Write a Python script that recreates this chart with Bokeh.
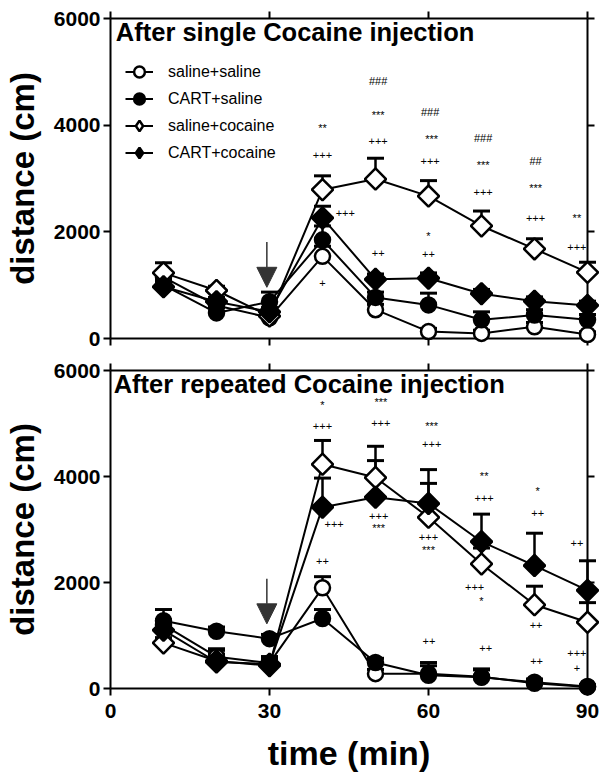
from bokeh.plotting import figure
from bokeh.models import (FixedTicker, LinearAxis, Range1d, Legend, LegendItem,
                          Arrow, NormalHead, ColumnDataSource)
from bokeh.layouts import column
from bokeh.embed import file_html
from bokeh.resources import INLINE
from bokeh.core.properties import value

# ---------------- data ----------------
time_min = [10, 20, 30, 40, 50, 60, 70, 80, 90]
group_names = ["saline+saline", "CART+saline", "saline+cocaine", "CART+cocaine"]

# After single cocaine injection (mean, SEM)
single_ss = [1150, 620, 390, 1540, 540, 130, 95, 220, 75]
single_ss_sem = [100, 80, 80, 190, 100, 60, 60, 80, 50]
single_cs = [1000, 480, 690, 1850, 770, 630, 350, 440, 350]
single_cs_sem = [100, 100, 180, 260, 100, 220, 150, 100, 100]
single_sc = [1230, 900, 420, 2790, 2990, 2670, 2110, 1680, 1240]
single_sc_sem = [190, 80, 60, 260, 390, 290, 280, 190, 190]
single_cc = [970, 690, 500, 2260, 1110, 1130, 840, 700, 620]
single_cc_sem = [100, 80, 80, 220, 100, 100, 80, 80, 80]

# After repeated cocaine injection (mean, SEM)
rep_ss = [1200, 600, 480, 1900, 280, 280, 220, 100, 30]
rep_ss_sem = [100, 150, 120, 210, 80, 150, 130, 60, 30]
rep_cs = [1280, 1080, 940, 1320, 490, 250, 210, 120, 40]
rep_cs_sem = [210, 80, 80, 170, 80, 240, 160, 60, 30]
rep_sc = [860, 520, 430, 4230, 3980, 3230, 2350, 1580, 1250]
rep_sc_sem = [100, 200, 170, 450, 590, 640, 300, 350, 370]
rep_cc = [1100, 500, 460, 3420, 3610, 3490, 2770, 2320, 1850]
rep_cc_sem = [100, 150, 100, 550, 690, 640, 520, 610, 560]

# significance marks
single_sig_x = [40, 40, 40, 44.3,
                50.5, 50.5, 50.5, 50.5,
                60.3, 60.6, 60.3, 60.0, 60.0,
                70.3, 70.3, 70.3,
                80.2, 80.2, 80.2,
                88.0, 88.0]
single_sig_y = [3940, 3450, 1040, 2360,
                4830, 4190, 3700, 1600,
                4250, 3750, 3320, 1925, 1585,
                3755, 3245, 2755,
                3320, 2830, 2265,
                2265, 1720]
single_sig_text = ["**", "+++", "+", "+++",
                   "###", "***", "+++", "++",
                   "###", "***", "+++", "*", "++",
                   "###", "***", "+++",
                   "##", "***", "+++",
                   "**", "+++"]

rep_sig_x = [40, 40, 40, 42.2,
             51.0, 51.0, 50.6, 50.6,
             60.6, 60.6, 60.0, 60.0, 60.1,
             70.5, 70.5, 68.7, 70.0, 70.8,
             80.6, 80.6, 80.3, 80.4,
             88.0, 88.0, 88.0]
rep_sig_y = [5340, 4950, 2415, 3110,
             5400, 5006, 3264, 3025,
             4962, 4604, 2855, 2617, 887,
             4013, 3598, 1911, 1647, 755,
             3717, 3308, 1189, 528,
             2742, 666, 391]
rep_sig_text = ["*", "+++", "++", "+++",
                "***", "+++", "+++", "***",
                "***", "+++", "+++", "***", "++",
                "**", "+++", "+++", "*", "++",
                "*", "++", "++", "++",
                "++", "+++", "+"]

panel_titles = ["After single Cocaine injection", "After repeated Cocaine injection"]
x_ticks = [0, 30, 60, 90]
y_ticks = [0, 2000, 4000, 6000]
injection_time = 29.5
single_arrow_y = [1810, 960]
rep_arrow_y = [2070, 1220]

FONT = "Liberation Sans"
marker_kind = ["circle", "circle", "square", "square"]
marker_fill = ["white", "black", "white", "black"]
marker_angle = [0, 0, 0.785398, 0.785398]


def style_axis(ax, labels=True):
    ax.axis_line_width = 2
    ax.axis_line_color = "black"
    ax.major_tick_line_width = 2
    ax.major_tick_line_color = "black"
    ax.major_tick_out = 7
    ax.major_tick_in = 0
    ax.minor_tick_line_color = None
    if labels:
        ax.major_label_text_font = FONT
        ax.major_label_text_font_style = "bold"
        ax.major_label_text_font_size = "21px"
        ax.major_label_text_color = "black"
        ax.major_label_standoff = 3
    else:
        ax.major_label_text_font_size = "0px"
        ax.major_label_standoff = 0


def make_panel(means, sems, sig_x, sig_y, sig_text, title, arrow_y, bottom, legend):
    p = figure(x_range=Range1d(0, 90), y_range=Range1d(0, 6000),
               frame_width=477, frame_height=320 if not bottom else 318,
               output_backend="svg", toolbar_location=None,
               min_border_left=105, min_border_right=18,
               min_border_top=18,
               min_border_bottom=14 if not bottom else 88,
               background_fill_color="white", border_fill_color="white",
               outline_line_color=None)
    p.grid.visible = False

    p.xaxis.ticker = FixedTicker(ticks=x_ticks)
    p.yaxis.ticker = FixedTicker(ticks=y_ticks)
    style_axis(p.xaxis[0], labels=bottom)
    style_axis(p.yaxis[0], labels=True)
    p.yaxis.axis_label = "distance (cm)"
    p.yaxis.axis_label_text_font = FONT
    p.yaxis.axis_label_text_font_style = "bold"
    p.yaxis.axis_label_text_font_size = "33px"
    p.yaxis.axis_label_text_color = "black"
    p.yaxis.axis_label_standoff = 10
    if bottom:
        p.xaxis.major_label_standoff = 8
        p.xaxis.axis_label = "time (min)"
        p.xaxis.axis_label_text_font = FONT
        p.xaxis.axis_label_text_font_style = "bold"
        p.xaxis.axis_label_text_font_size = "34px"
        p.xaxis.axis_label_text_color = "black"
        p.xaxis.axis_label_standoff = 13

    top_ax = LinearAxis(ticker=FixedTicker(ticks=x_ticks))
    style_axis(top_ax, labels=False)
    p.add_layout(top_ax, "above")
    right_ax = LinearAxis(ticker=FixedTicker(ticks=y_ticks))
    style_axis(right_ax, labels=False)
    p.add_layout(right_ax, "right")

    # error bars (upper only)
    for m, s in zip(means, sems):
        upper = [a + b for a, b in zip(m, s)]
        src = ColumnDataSource(dict(x=time_min, y=m, up=upper))
        r = p.segment(x0="x", y0="y", x1="x", y1="up", source=src,
                      line_color="black", line_width=2.5)
        r.level = "overlay"
        r = p.scatter(x="x", y="up", source=src, marker="dash", size=17,
                      line_color="black", line_width=3)
        r.level = "overlay"

    line_rs = []
    for i, m in enumerate(means):
        src = ColumnDataSource(dict(x=time_min, y=m))
        lr = p.line(x="x", y="y", source=src, line_color="black", line_width=2)
        lr.level = "overlay"
        line_rs.append(lr)
    legend_marks = []
    for i, m in enumerate(means):
        src = ColumnDataSource(dict(x=time_min, y=m))
        if marker_kind[i] == "square":
            # plain diamond sitting under the rotated square; used for the legend swatch
            dr = p.scatter(x="x", y="y", source=src, marker="diamond", size=20,
                           fill_color=marker_fill[i], line_color="black", line_width=2.5)
            dr.level = "overlay"
        mr = p.scatter(x="x", y="y", source=src, marker=marker_kind[i],
                       size=15, angle=marker_angle[i],
                       fill_color=marker_fill[i], line_color="black", line_width=2.5)
        mr.level = "overlay"
        legend_marks.append(dr if marker_kind[i] == "square" else mr)

    tsrc = ColumnDataSource(dict(x=sig_x, y=sig_y, t=sig_text))
    p.text(x="x", y="y", text="t", source=tsrc, text_font=value(FONT),
           text_font_size="11px", text_align="center", text_baseline="middle",
           text_color="black")

    ttl = ColumnDataSource(dict(x=[1.0 if not bottom else 0.6],
                                y=[5755 if not bottom else 5736], t=[title]))
    p.text(x="x", y="y", text="t", source=ttl, text_font=value(FONT),
           text_font_style="bold", text_font_size="25.5px", text_align="left",
           text_baseline="middle", text_color="black")

    p.add_layout(Arrow(end=NormalHead(size=20, fill_color="#333333", line_color="#333333",
                                      line_width=1),
                       x_start=injection_time, y_start=arrow_y[0],
                       x_end=injection_time, y_end=arrow_y[1],
                       line_color="#333333", line_width=1.5))

    if legend:
        leg_items = [LegendItem(label=group_names[i], renderers=[line_rs[i], legend_marks[i]])
                     for i in range(4)]
        lg = Legend(items=leg_items, location=(15, 172), glyph_width=28, glyph_height=27,
                    label_height=27, spacing=0, label_text_font=FONT,
                    label_text_font_size="16px", label_text_color="black",
                    label_standoff=15, padding=0, margin=0, border_line_color=None,
                    background_fill_alpha=0)
        p.add_layout(lg)
    return p


p1 = make_panel([single_ss, single_cs, single_sc, single_cc],
                [single_ss_sem, single_cs_sem, single_sc_sem, single_cc_sem],
                single_sig_x, single_sig_y, single_sig_text, panel_titles[0],
                single_arrow_y, bottom=False, legend=True)
p2 = make_panel([rep_ss, rep_cs, rep_sc, rep_cc],
                [rep_ss_sem, rep_cs_sem, rep_sc_sem, rep_cc_sem],
                rep_sig_x, rep_sig_y, rep_sig_text, panel_titles[1],
                rep_arrow_y, bottom=True, legend=False)

layout = column(p1, p2)
open("out.html", "w").write(file_html(layout, INLINE))
